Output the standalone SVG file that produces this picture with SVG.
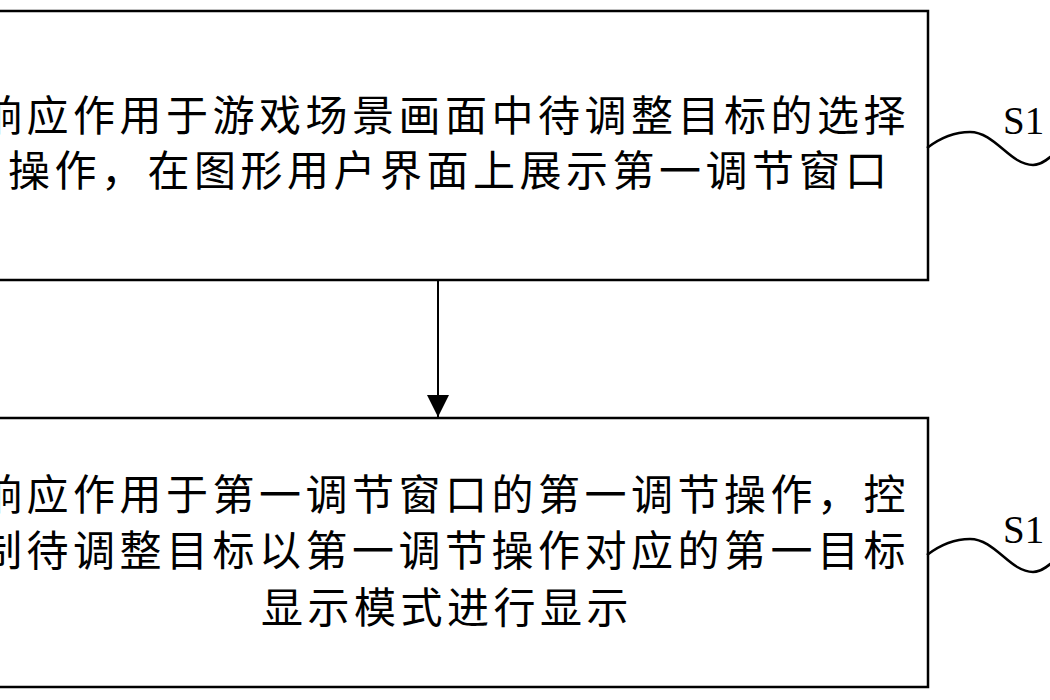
<svg xmlns="http://www.w3.org/2000/svg" width="1050" height="700" viewBox="0 0 1050 700">
<defs>
<style>
.box{fill:#fff;stroke:#000;stroke-width:2.5}
.t{font-family:"Noto Sans CJK SC","Noto Sans CJK JP",sans-serif;font-size:42px;letter-spacing:4.5px;fill:#000}
.lbl{font-family:"Liberation Serif","Times New Roman",serif;font-size:39px;fill:#000}
.wave{fill:none;stroke:#000;stroke-width:2.5}
.conn{fill:none;stroke:#000;stroke-width:2}
</style>
<marker id="ah" markerWidth="22" markerHeight="22" refX="22" refY="11" orient="auto" markerUnits="userSpaceOnUse">
<path d="M0,0 L22,11 L0,22 Z" fill="#000"/>
</marker>
</defs>
<rect width="1050" height="700" fill="#fff"/>
<g id="node-s101">
<rect class="box" x="-50" y="11" width="978" height="269"/>
<text class="t" x="-20" y="131">响应作用于游戏场景画面中待调整目标的选择</text>
<text class="t" x="8" y="186">操作，在图形用户界面上展示第一调节窗口</text>
</g>
<g id="node-s102">
<rect class="box" x="-50" y="418" width="978" height="269"/>
<text class="t" x="-20" y="510">响应作用于第一调节窗口的第一调节操作，控</text>
<text class="t" x="-20" y="566">制待调整目标以第一调节操作对应的第一目标</text>
<text class="t" x="261" y="623">显示模式进行显示</text>
</g>
<g id="label-s101">
<text class="lbl" x="1003" y="134">S1</text>
</g>
<g id="label-s102">
<text class="lbl" x="1003" y="543">S1</text>
</g>
<g id="connectors">
<line class="conn" x1="438" y1="280" x2="438" y2="417" marker-end="url(#ah)"/>
<path class="wave" d="M927,148 C940,138 955,132 970,132 C995,132 1010,165 1033,165 C1042,165 1050,158 1058,150"/>
<path class="wave" d="M927,555 C940,545 955,539 970,539 C995,539 1010,572 1033,572 C1042,572 1050,565 1058,557"/>
</g>
</svg>
